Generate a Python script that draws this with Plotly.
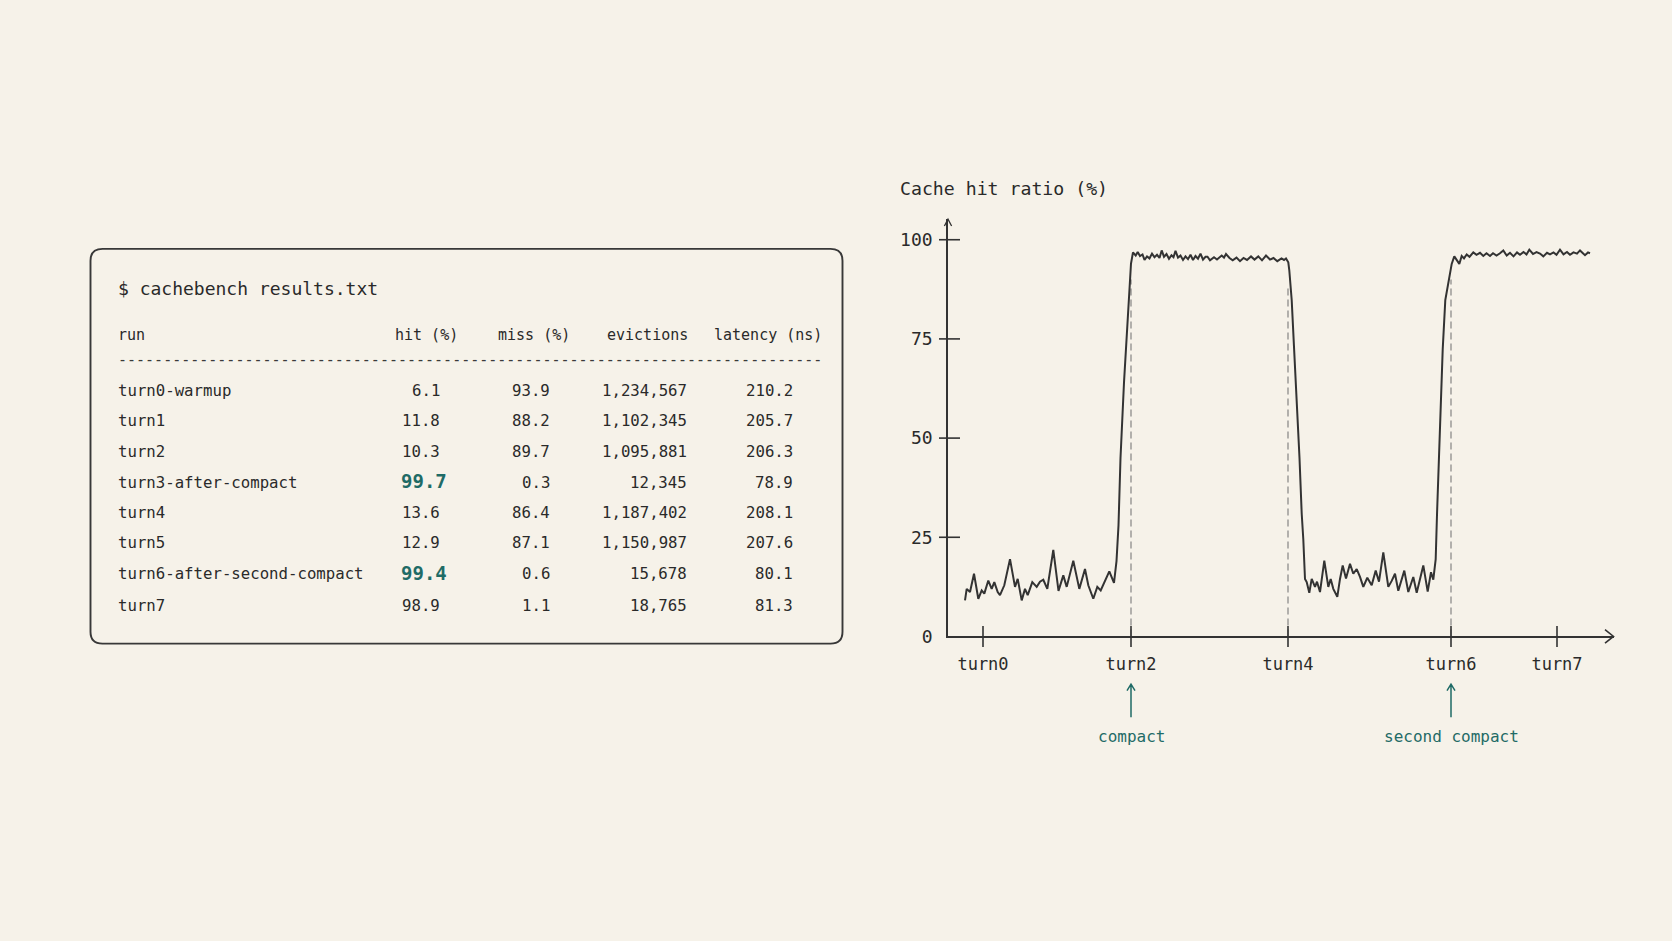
import plotly.graph_objects as go

W, H = 1672, 941
BG = "#f6f2e9"
INK = "#2a2a2a"
LINE = "#333333"
TEAL = "#1f6b66"
MONO = "DejaVu Sans Mono"

# ---------------- table data ----------------
table_title = "$ cachebench results.txt"
headers = ["run", "hit (%)", "miss (%)", "evictions", "latency (ns)"]
runs = ["turn0-warmup", "turn1", "turn2", "turn3-after-compact", "turn4",
        "turn5", "turn6-after-second-compact", "turn7"]
hit_pct = [6.1, 11.8, 10.3, 99.7, 13.6, 12.9, 99.4, 98.9]
miss_pct = [93.9, 88.2, 89.7, 0.3, 86.4, 87.1, 0.6, 1.1]
evictions = [1234567, 1102345, 1095881, 12345, 1187402, 1150987, 15678, 18765]
latency_ns = [210.2, 205.7, 206.3, 78.9, 208.1, 207.6, 80.1, 81.3]

# ---------------- chart data ----------------
chart_title = "Cache hit ratio (%)"
tick_labels = ["turn0", "turn2", "turn4", "turn6", "turn7"]
tick_steps = [35, 183, 340, 503, 609]
y_ticks = [0, 25, 50, 75, 100]
regime_turns = ["turn2", "turn4", "turn6"]
regime_tops = [90, 88, 90]
compact_turns = ["turn2", "turn6"]
compact_labels = ["compact", "second compact"]

steps = [
    17.0, 18.7, 22.0, 26.0, 30.3, 33.7, 36.3, 40.3, 43.7, 46.3, 49.7, 52.0, 56.3,
    62.0, 67.0, 69.7, 73.7, 77.0, 79.7, 84.3, 88.7, 92.0, 95.3, 99.3, 105.3, 110.5,
    115.3, 118.7, 125.3, 131.3, 137.0, 140.3, 145.3, 149.3, 152.7, 156.0, 161.3, 166.0,
    168.5, 170.5, 172.5, 176.0, 179.5, 181.5, 183.0,
    185.0, 187.7, 189.7, 192.0, 194.5, 196.5, 199.0, 201.5, 204.0, 206.5, 209.0, 211.5,
    213.7, 216.0, 218.5, 221.0, 223.5, 225.5, 227.5, 230.0, 232.5, 235.0, 237.5, 240.0,
    242.5, 245.0, 247.5, 250.0, 252.5, 255.0, 257.5, 259.5, 262.0, 266.0, 269.0, 273.7,
    276.0, 278.0, 281.5, 284.7, 288.5, 292.0, 295.5, 299.0, 303.0, 306.5, 310.3, 314.0,
    318.0, 322.0, 325.5, 329.3, 333.5, 336.0, 338.0, 340.3,
    341.3, 343.7, 346.0, 348.7, 351.5, 353.7, 355.3, 357.0,
    358.7, 361.3, 363.7, 367.0, 369.0, 372.0, 376.3, 380.3, 382.7, 385.3, 389.3, 392.0,
    394.7, 398.0, 402.0, 405.3, 408.7, 412.0, 415.3, 419.3, 423.7, 427.7, 431.0, 435.3,
    440.3, 443.7, 447.0, 450.3, 456.3, 460.3, 465.3, 468.7, 475.3, 479.7, 483.0, 485.3,
    487.7,
    489.0, 492.0, 494.7, 497.3, 500.7, 503.7, 506.3,
    508.7, 511.3, 513.7, 516.0, 518.7, 521.5, 525.3, 528.5, 532.0, 535.3, 538.5, 542.0,
    545.0, 548.5, 552.0, 555.3, 558.7, 562.0, 565.5, 569.0, 572.0, 575.5, 578.5, 581.3,
    585.0, 588.5, 592.0, 595.3, 599.0, 602.0, 605.5, 608.5, 612.0, 615.5, 619.0, 622.0,
    625.5, 629.0, 632.0, 635.0, 637.0, 640.0, 642.0,
]
hit_ratio = [
    9.1, 12.0, 11.2, 15.8, 9.5, 11.6, 10.8, 14.1, 12.0, 13.7, 11.2, 10.4, 12.9,
    19.5, 12.5, 14.5, 9.1, 12.0, 10.4, 13.7, 12.5, 13.8, 14.3, 12.0, 21.8, 11.5,
    15.4, 12.5, 19.1, 12.0, 17.0, 12.9, 9.5, 12.5, 11.6, 13.3, 16.4, 13.5,
    19.0, 28.0, 45.0, 64.0, 80.0, 89.0, 94.0,
    96.8, 96.0, 96.9, 95.9, 96.3, 94.9, 95.8, 95.3, 96.5, 95.6, 96.2, 95.4,
    97.3, 95.7, 96.4, 95.2, 96.1, 95.6, 97.2, 95.5, 96.0, 94.9, 95.8, 95.1,
    96.2, 94.9, 95.9, 95.2, 96.5, 95.0, 95.7, 95.7, 94.8, 95.6, 95.0, 96.0,
    95.5, 96.4, 95.4, 94.8, 95.5, 94.6, 95.4, 94.9, 95.8, 95.0, 95.8, 94.8,
    96.0, 95.0, 95.4, 94.6, 95.3, 94.9, 95.3, 94.3,
    92.3, 84.8, 73.0, 60.0, 45.0, 31.0, 24.5, 14.5,
    13.7, 11.0, 14.5, 12.5, 13.8, 11.2, 19.1, 12.5, 14.5, 12.0, 10.0, 14.5,
    17.9, 14.6, 18.3, 15.8, 17.0, 15.0, 12.5, 14.8, 12.9, 16.6, 13.8, 21.2,
    12.5, 14.0, 15.8, 11.5, 16.6, 11.2, 15.0, 11.0, 17.9, 11.3, 16.2, 14.3,
    19.5,
    30.7, 55.7, 72.3, 84.8, 89.8, 93.9, 95.8,
    94.8, 93.9, 95.9, 95.3, 96.3, 95.7, 96.8, 96.2, 96.7, 95.9, 96.6, 95.9,
    96.6, 96.0, 96.6, 97.3, 96.0, 96.7, 95.8, 96.8, 96.2, 96.9, 96.3, 97.5,
    96.4, 96.9, 96.5, 95.8, 96.7, 96.3, 96.8, 96.2, 97.5, 96.3, 96.9, 96.2,
    96.8, 96.5, 97.3, 96.6, 96.1, 96.8, 96.6,
]

# ---------------- layout geometry (pixels) ----------------
AX_X0, AX_X1 = 948.0, 1613.5      # x-axis origin -> arrow tip
AX_Y0, AX_Y1 = 643.3, 221.5       # y = 0 -> arrow tip
X_RANGE = [0, AX_X1 - AX_X0]
Y_RANGE = [0, (AX_Y0 - AX_Y1) / 4.01]


def px(x):
    return x / W


def py(y):
    return 1 - y / H


step_of = dict(zip(tick_labels, tick_steps))

fig = go.Figure()

# main series
fig.add_trace(go.Scatter(
    x=steps, y=hit_ratio, mode="lines",
    line=dict(color=LINE, width=2.0, shape="linear"),
    hoverinfo="skip", showlegend=False, cliponaxis=False,
))

# tick crosses on x axis
fig.add_trace(go.Scatter(
    x=tick_steps, y=[0] * len(tick_steps), mode="markers",
    marker=dict(symbol="line-ns", size=15, line=dict(color=LINE, width=1.6)),
    hoverinfo="skip", showlegend=False, cliponaxis=False,
))
# tick crosses on y axis (not at origin)
fig.add_trace(go.Scatter(
    x=[1.5] * (len(y_ticks) - 1), y=y_ticks[1:], mode="markers",
    marker=dict(symbol="line-ew", size=15, line=dict(color=LINE, width=1.6)),
    hoverinfo="skip", showlegend=False, cliponaxis=False,
))

shapes = []
annotations = []

# dashed regime-change markers
for t, top in zip(regime_turns, regime_tops):
    shapes.append(dict(type="line", xref="x", yref="y",
                       x0=step_of[t], x1=step_of[t], y0=0, y1=top,
                       line=dict(color="#7a7a7a", width=1.1, dash="7px,4px"),
                       layer="below"))

# axis arrowheads
shapes.append(dict(type="path", xref="paper", yref="paper",
                   path=f"M{px(AX_X1-8.5)},{py(AX_Y0-6.8)} L{px(AX_X1)},{py(AX_Y0)} L{px(AX_X1-8.5)},{py(AX_Y0+6.8)}",
                   line=dict(color=LINE, width=1.6)))
shapes.append(dict(type="path", xref="paper", yref="paper",
                   path=f"M{px(AX_X0-3.6)},{py(AX_Y1+7)} L{px(AX_X0)},{py(AX_Y1)} L{px(AX_X0+3.6)},{py(AX_Y1+7)}",
                   line=dict(color=LINE, width=1.3)))

# compact annotations (teal arrows + text)
for t, lab in zip(compact_turns, compact_labels):
    xs = step_of[t]
    shapes.append(dict(type="path", xref="x", yref="paper",
                       path=f"M{xs},{py(725)} L{xs},{py(692)} M{xs-4},{py(698)} L{xs},{py(691.5)} L{xs+4},{py(698)}",
                       line=dict(color=TEAL, width=1.5)))
    annotations.append(dict(xref="x", yref="paper", x=xs, y=py(744), text=lab,
                            showarrow=False, xanchor="center", yanchor="middle",
                            font=dict(family=MONO, size=16, color=TEAL)))

# chart title
annotations.append(dict(xref="paper", yref="paper", x=px(898), y=py(191),
                        text=chart_title, showarrow=False, xanchor="left",
                        yanchor="middle", font=dict(family=MONO, size=18.2, color=INK)))

# ---------------- table ----------------
bx0, by0, bx1, by1, r = 90.5, 251.5, 842.5, 650.5, 12
path = (f"M{px(bx0+r)},{py(by0)} L{px(bx1-r)},{py(by0)} "
        f"Q{px(bx1)},{py(by0)} {px(bx1)},{py(by0+r)} "
        f"L{px(bx1)},{py(by1-r)} Q{px(bx1)},{py(by1)} {px(bx1-r)},{py(by1)} "
        f"L{px(bx0+r)},{py(by1)} Q{px(bx0)},{py(by1)} {px(bx0)},{py(by1-r)} "
        f"L{px(bx0)},{py(by0+r)} Q{px(bx0)},{py(by0)} {px(bx0+r)},{py(by0)} Z")
shapes.append(dict(type="path", xref="paper", yref="paper", path=path,
                   line=dict(color="#383838", width=1.9), fillcolor="rgba(0,0,0,0)"))


def txt(x, y, s, size=15.7, color=INK, anchor="left", bold=False):
    if bold:
        s = f"<b>{s}</b>"
    annotations.append(dict(xref="paper", yref="paper", x=px(x), y=py(y), text=s,
                            showarrow=False, xanchor=anchor, yanchor="middle",
                            font=dict(family=MONO, size=size, color=color)))


TX = 115.5
txt(TX, 292, table_title, size=18)

header_left = [TX, 392.5, 496, 604.7, 712.4]
for xl, h in zip(header_left, headers):
    txt(xl, 339, h, size=15)

txt(TX, 363.5, "-" * 78, size=15, color="#3a3a3a")

row_y = [394.5, 425.4, 456.4, 487.3, 518.2, 548.1, 580.1, 612.1]
col_right = [442.5, 552.3, 688.8, 795.4]
for i, yy in enumerate(row_y):
    txt(TX, yy, runs[i])
    highlight = "compact" in runs[i]
    if highlight:
        txt(449.5, yy - 1, f"{hit_pct[i]:.1f}", size=19, color=TEAL, anchor="right", bold=True)
    else:
        txt(col_right[0], yy, f"{hit_pct[i]:.1f}", anchor="right")
    txt(col_right[1], yy, f"{miss_pct[i]:.1f}", anchor="right")
    txt(col_right[2], yy, f"{evictions[i]:,}", anchor="right")
    txt(col_right[3], yy, f"{latency_ns[i]:.1f}", anchor="right")

fig.update_layout(
    width=W, height=H,
    margin=dict(l=0, r=0, t=0, b=0),
    paper_bgcolor=BG, plot_bgcolor=BG,
    shapes=shapes, annotations=annotations,
    showlegend=False,
    xaxis=dict(domain=[AX_X0 / W, AX_X1 / W], range=X_RANGE, showgrid=False,
               zeroline=False, showline=True, linecolor=LINE, linewidth=1.6,
               tickvals=tick_steps, ticktext=tick_labels, ticks="",
               ticklabelstandoff=11,
               tickfont=dict(family=MONO, size=17, color=INK), fixedrange=True),
    yaxis=dict(domain=[1 - AX_Y0 / H, 1 - AX_Y1 / H], range=Y_RANGE, showgrid=False,
               zeroline=False, showline=True, linecolor=LINE, linewidth=1.6,
               tickvals=y_ticks, ticktext=[str(v) for v in y_ticks], ticks="",
               ticklabelstandoff=10,
               tickfont=dict(family=MONO, size=18, color=INK), fixedrange=True),
)

fig.write_html("out.html")
